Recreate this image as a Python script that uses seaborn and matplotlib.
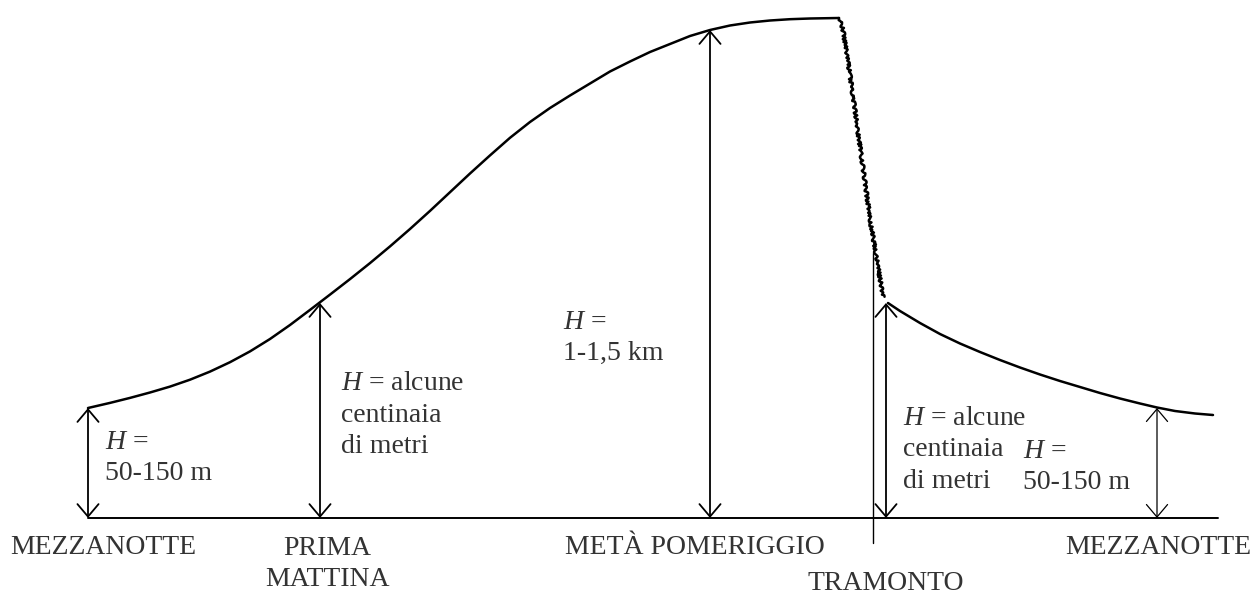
import pandas as pd
import seaborn as sns
import matplotlib.pyplot as plt

# Boundary-layer height through the day (x: time position, h: height above ground line)
day_x = [88, 110, 130, 150, 170, 190, 210, 230, 250, 270, 290, 310, 330, 350, 370, 390,
         410, 430, 450, 470, 490, 510, 530, 550, 570, 590, 610, 630, 650, 670, 690, 710,
         730, 750, 770, 790, 810, 839]
day_h = [110, 115.1, 120.1, 125.5, 131.4, 138.3, 146.4, 155.8, 166.6, 179.0, 193.0, 208.1,
         223.4, 238.9, 254.9, 271.6, 289.0, 307.1, 325.8, 344.5, 362.6, 380.2, 396, 410,
         422.5, 434.5, 446.5, 456.5, 466, 474, 482, 488, 492.5, 495.5, 497.5, 498.8, 499.5, 500]

sunset_x = [839, 843, 850, 857, 864, 871, 877, 883]
sunset_h = [500, 488, 443, 393, 343, 293, 258, 221]

night_x = [888, 900, 920, 940, 960, 980, 1000, 1020, 1040, 1060, 1080, 1100, 1120, 1140,
           1157, 1175, 1195, 1213]
night_h = [215, 207, 195, 184, 174.5, 166, 158, 150.5, 143.5, 137, 131, 125, 119.5, 114.5,
           110.5, 107, 104.5, 103]

# double arrows marking H at given times
arrow_x = [88, 320, 710, 886, 1157]
arrow_h = [110, 215, 488, 215, 110]

time_labels = ['MEZZANOTTE', 'PRIMA\nMATTINA', 'METÀ POMERIGGIO', 'TRAMONTO', 'MEZZANOTTE']
h_labels = ['$\\mathit{H}$ =\n50-150 m',
            '$\\mathit{H}$ = alcune\ncentinaia\ndi metri',
            '$\\mathit{H}$ =\n1-1,5 km',
            '$\\mathit{H}$ = alcune\ncentinaia\ndi metri',
            '$\\mathit{H}$ =\n50-150 m']

sns.set_style("white")
plt.rcParams['font.family'] = ['Liberation Serif', 'DejaVu Serif']
plt.rcParams['mathtext.fontset'] = 'custom'
plt.rcParams['mathtext.it'] = 'Liberation Serif:italic'
plt.rcParams['mathtext.rm'] = 'Liberation Serif'

fig = plt.figure(figsize=(12.57, 5.93), dpi=100)
ax = fig.add_axes([0, 0, 1, 1])
ax.set_xlim(0, 1257)
ax.set_ylim(-75, 518)
ax.axis('off')

day_df = pd.DataFrame({'x': day_x, 'h': day_h})
night_df = pd.DataFrame({'x': night_x, 'h': night_h})
sunset_df = pd.DataFrame({'x': sunset_x, 'h': sunset_h})

sns.lineplot(data=day_df, x='x', y='h', sort=False, color='black', lw=1.8, ax=ax)
sns.lineplot(data=night_df, x='x', y='h', sort=False, color='black', lw=1.8, ax=ax)
sns.lineplot(data=sunset_df, x='x', y='h', sort=False, color='black', lw=1.8, ax=ax)
ax.lines[-1].set_sketch_params(scale=1.6, length=6, randomness=4)
for ln in ax.lines:
    ln.set_solid_joinstyle('round')

# ground line and sunset marker
ax.plot([88, 1218], [0, 0], color='black', lw=1.4)
ax.plot([873, 873], [265, -25], color='black', lw=1.0)

for i, (x, h) in enumerate(zip(arrow_x, arrow_h)):
    lw = 0.9 if i == 4 else 1.3
    ax.annotate('', xy=(x, h), xytext=(x, 0),
                arrowprops=dict(arrowstyle='<->,head_length=0.45,head_width=0.38',
                                mutation_scale=20, color='black', lw=lw,
                                shrinkA=0, shrinkB=0))

txt = '#333333'
time_pos = [(103, -30), (327, -46), (695, -30), (886, -65), (1158, -30)]
for lab, (x, y) in zip(time_labels, time_pos):
    ax.text(x, y, lab, ha='center', va='center', fontsize=20, color=txt, linespacing=1.3)

h_pos = [(105, 60), (341, 103), (563, 180), (903, 68), (1023, 51)]
for lab, (x, y) in zip(h_labels, h_pos):
    ax.text(x, y, lab, ha='left', va='center', fontsize=20, color=txt, linespacing=1.35)

fig.savefig('out.png', dpi=100, facecolor='white')
